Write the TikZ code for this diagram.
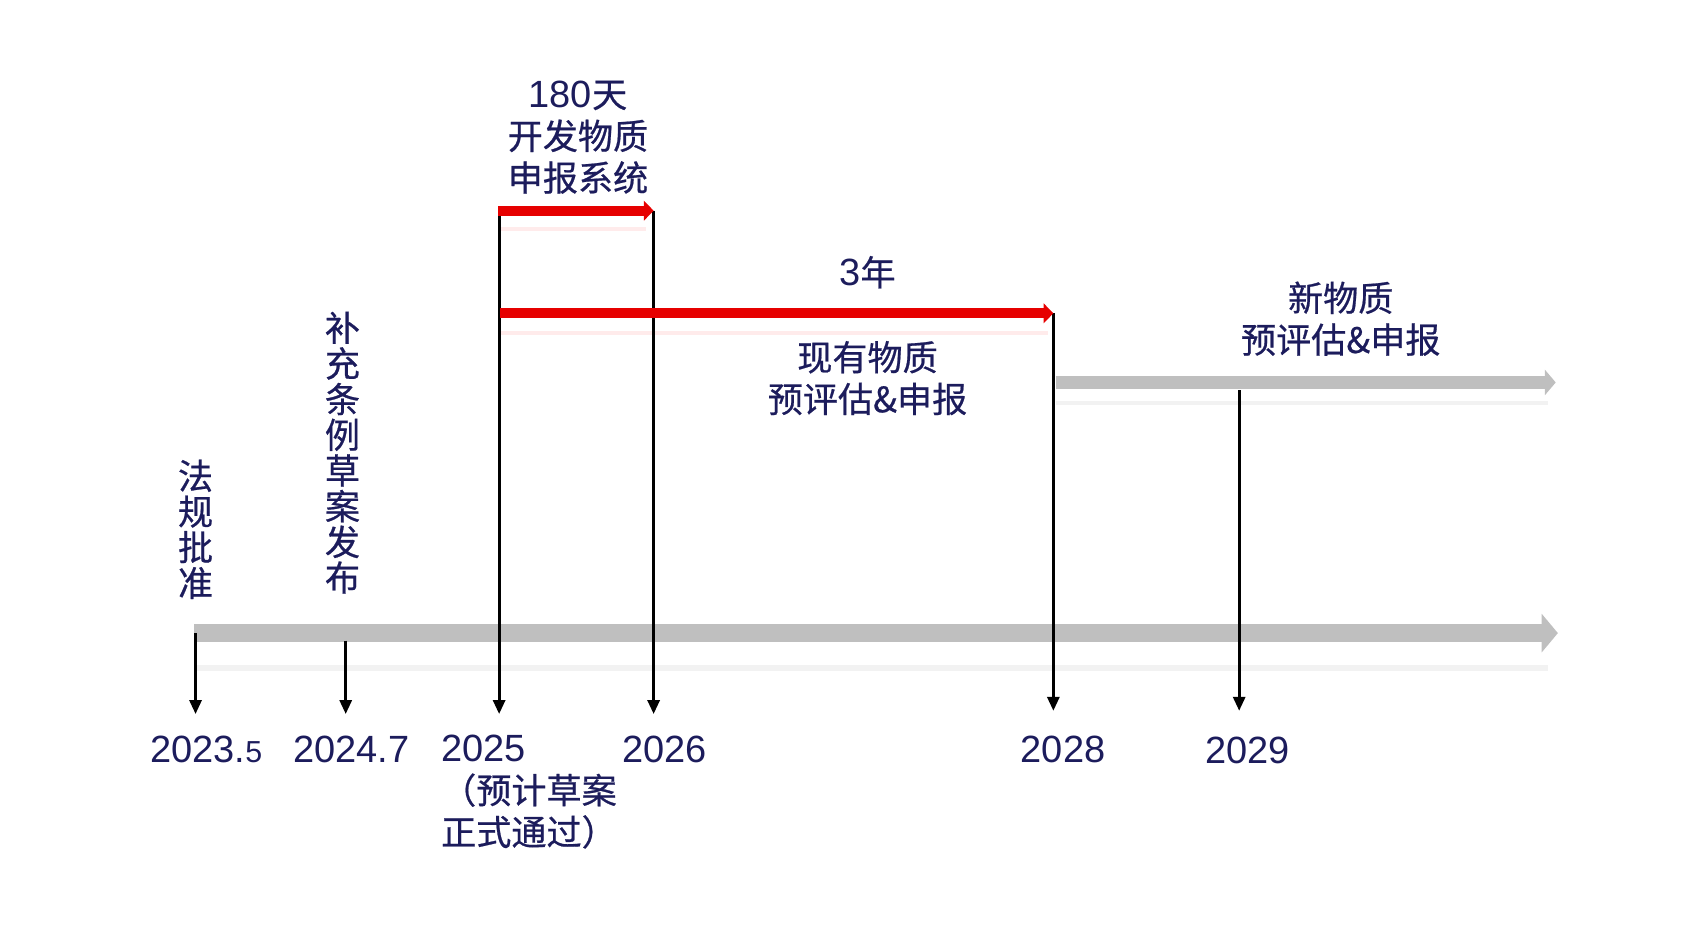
\documentclass[tikz,border=0pt]{standalone}
\usepackage{fontspec}
\setmainfont{Noto Sans CJK SC}[FakeBold=0.6]
\newfontfamily\numfont{Liberation Sans}
\newcommand{\digits}[1]{{\numfont\fontsize{20}{22}\selectfont #1}}
\usetikzlibrary{arrows.meta}
\definecolor{navy}{HTML}{1C1C5C}
\definecolor{barred}{HTML}{E60000}
\definecolor{bargray}{HTML}{BFBFBF}

\begin{document}
\begin{tikzpicture}[x=0.02cm, y=-0.02cm,
    txt/.style={text=navy, inner sep=0pt, align=center, font=\fontsize{18.5}{22}\selectfont},
    vtxt/.style={txt, font=\fontsize{18.5}{18.8}\selectfont},
    tick/.style={-{Triangle[length=0.26cm,width=0.22cm]}, line width=1.7pt},
    redbar/.style={-{Triangle[length=0.18cm,width=0.36cm]}, line width=5.1pt, barred},
    graybar/.style={-{Triangle[length=0.2cm,width=0.46cm]}, line width=6.8pt, bargray},
    mainbar/.style={-{Triangle[length=0.3cm,width=0.7cm]}, line width=9.6pt, bargray},
    shade/.style={line width=2pt}]
    \useasboundingbox (0,0) rectangle (1568,866);

    % Bars
    \coordinate (m0) at (180,586);
    \coordinate (m1) at (1442,586);
    \coordinate (r0) at (461,195);
    \coordinate (r1) at (605,195);
    \coordinate (s0) at (463,290);
    \coordinate (s1) at (975,290);
    \coordinate (g0) at (977,354);
    \coordinate (g1) at (1440,354);

    % faint reflections
    \draw[shade, black!5, line width=3pt] (180,618) -- (1433,618);
    \draw[shade, red!8] (463,212) -- (598,212);
    \draw[shade, red!8] (463,308) -- (970,308);
    \draw[shade, black!5] (977,373) -- (1433,373);

    \draw[mainbar] (m0) -- (m1);
    \draw[graybar] (g0) -- (g1);

    % Year labels
    \node[txt] (y23) at (191,694) {\digits{2023.}{\numfont\fontsize{16}{19}\selectfont 5}};
    \node[txt] (y24) at (325,694) {\digits{2024.7}};
    \node[txt, align=left, anchor=west] (y25) at (408,733) {\digits{2025}\\（预计草案\\正式通过）};
    \node[txt] (y26) at (615,694) {\digits{2026}};
    \node[txt] (y28) at (984,694) {\digits{2028}};
    \node[txt] (y29) at (1155,695) {\digits{2029}};

    % Ticks
    \coordinate (e23) at (181,661);
    \coordinate (e24) at (320,661);
    \coordinate (e25) at (462,661);
    \coordinate (e26) at (605,661);
    \coordinate (e28) at (975,658);
    \coordinate (e29) at (1147,658);
    \draw[tick] (181,586) coordinate (t23) -- (e23);
    \draw[tick] (320,593) coordinate (t24) -- (e24);
    \draw[tick] (462,192) coordinate (t25) -- (e25);
    \draw[tick] (r1) -- (e26);
    \draw[tick] (s1) -- (e28);
    \draw[tick] (1147,361) coordinate (t29) -- (e29);

    \draw[redbar] (r0) -- (r1);
    \draw[redbar] (s0) -- (s1);

    % Event labels
    \node[vtxt] (law) at (181,490) {法\\规\\批\\准};
    \node[vtxt] (draft) at (317,419) {补\\充\\条\\例\\草\\案\\发\\布};
    \node[txt] (dev) at (535,127) {\digits{180}天\\开发物质\\申报系统};
    \node[txt] (yr3) at (803,252) {\digits{3}年};
    \node[txt] (old) at (803,350) {现有物质\\预评估\&申报};
    \node[txt] (new) at (1241,295) {新物质\\预评估\&申报};

\end{tikzpicture}
\end{document}
